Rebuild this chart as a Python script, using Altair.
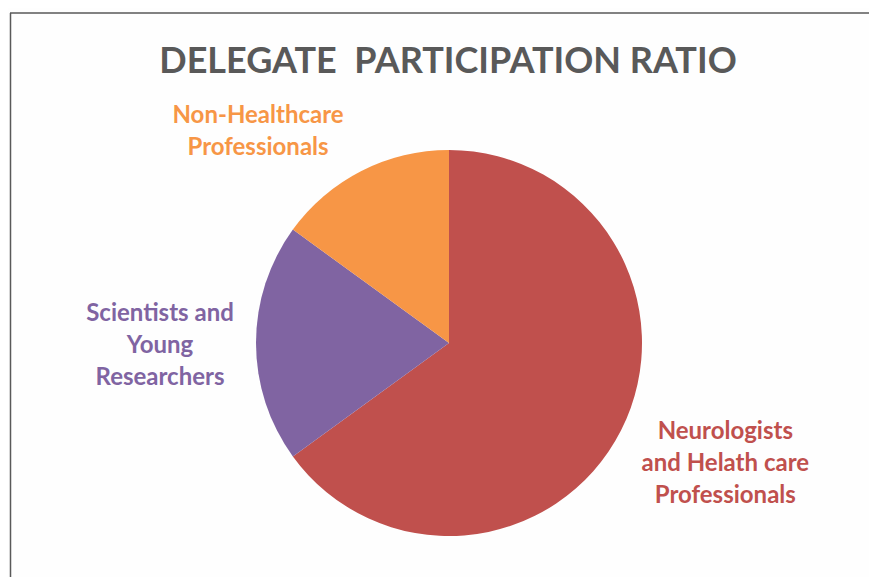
import altair as alt
import pandas as pd

categories = ["Neurologists\nand Helath care\nProfessionals", "Scientists and\nYoung\nResearchers", "Non-Healthcare\nProfessionals"]
keys = ["neuro", "sci", "non"]
values = [65, 20, 15]
colors = ["#C0504D", "#8064A2", "#F79646"]
order = [1, 2, 3]
title_text = "DELEGATE\u00a0 PARTICIPATION RATIO"

df = pd.DataFrame({"key": keys, "label": categories, "value": values, "order": order})

W, H = 861, 569
cx, cy, R = 441, 335, 193

color_scale = alt.Scale(domain=keys, range=colors)

pie = alt.Chart(df).mark_arc(outerRadius=R).encode(
    theta=alt.Theta("value:Q", stack=True),
    order=alt.Order("order:Q"),
    color=alt.Color("key:N", scale=color_scale, legend=None),
    x=alt.value(cx), y=alt.value(cy),
)

labels = alt.Chart(df).transform_joinaggregate(
    total="sum(value)"
).transform_window(
    cum="sum(value)", sort=[alt.SortField("order")], frame=[None, 0]
).transform_calculate(
    mid="(datum.cum - datum.value/2) / datum.total * 2 * PI",
    r="datum.key == 'neuro' ? 300 : datum.key == 'sci' ? 289 : 240",
    ox="datum.key == 'neuro' ? 9 : datum.key == 'sci' ? 0 : -82",
    oy="datum.key == 'neuro' ? -47 : datum.key == 'sci' ? -29 : -13",
).transform_calculate(
    px=f"{cx} + datum.r * sin(datum.mid) + datum.ox",
    py=f"{cy} - datum.r * cos(datum.mid) + datum.oy",
).mark_text(
    font="Lato", fontWeight="bold", fontSize=24,
    lineBreak="\n", lineHeight=32, align="center", baseline="middle",
).encode(
    x=alt.X("px:Q", scale=None),
    y=alt.Y("py:Q", scale=None),
    text="label:N",
    color=alt.Color("key:N", scale=color_scale, legend=None),
)

title = alt.Chart(pd.DataFrame({"t": [title_text]})).mark_text(
    font="Lato", fontWeight="bold", fontSize=36, color="#595959", align="center", baseline="middle"
).encode(x=alt.value(440), y=alt.value(54), text="t:N")

top_border = alt.Chart(pd.DataFrame({"a": [0]})).mark_rule(color="#595959", strokeWidth=1.5).encode(
    x=alt.value(2), x2=alt.value(W + 10), y=alt.value(5)
)
left_border = alt.Chart(pd.DataFrame({"a": [0]})).mark_rule(color="#595959", strokeWidth=1.5).encode(
    x=alt.value(2.5), y=alt.value(5), y2=alt.value(H + 10)
)

chart = alt.layer(pie, labels, title, top_border, left_border).properties(
    width=W, height=H, padding=0, autosize=alt.AutoSizeParams(type="none"),
    background="#FEFEFE",
).configure_view(stroke=None)

chart.save("out.html", embed_options={"renderer": "svg", "actions": False})
